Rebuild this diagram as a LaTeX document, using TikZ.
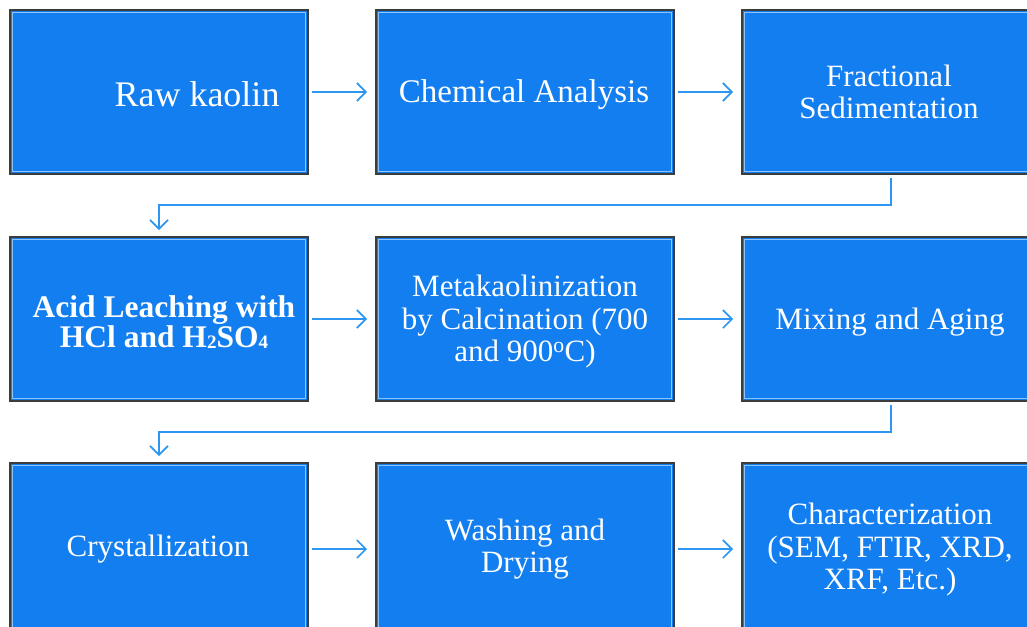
\documentclass[tikz,border=0pt]{standalone}
\usepackage{fontspec}
\setmainfont{Liberation Serif}
\usetikzlibrary{arrows.meta}
\definecolor{boxblue}{RGB}{18,126,240}
\definecolor{arrblue}{RGB}{45,150,240}
\definecolor{edgegray}{RGB}{60,60,60}
\definecolor{innerblue}{RGB}{140,195,250}
\newcommand{\smallsub}[1]{\raisebox{-1.5pt}{\fontsize{19}{19}\selectfont #1}}
\begin{document}
\begin{tikzpicture}[x=1pt,y=-1pt,
  box/.style={draw=edgegray,line width=2pt,fill=boxblue,minimum width=298pt,minimum height=164pt,anchor=north west,inner sep=0pt,outer sep=0pt},
  lastrow/.style={minimum height=170pt},
  innerline/.style={draw=innerblue,line width=0.8pt},
  lbl/.style={text=white,align=center,inner sep=0pt,font=\fontsize{31}{32.5}\selectfont},
  conn/.style={draw=arrblue,line width=1.6pt,-{Straight Barb[length=9pt,width=18pt,line width=1.6pt]}}]
\useasboundingbox (0,0) rectangle (1027,626);
\clip (0,0) rectangle (1027,626);
% boxes
\node[box] (b1) at (10,10) {};
\node[box] (b2) at (376,10) {};
\node[box] (b3) at (742,10) {};
\node[box] (b4) at (10,237) {};
\node[box] (b5) at (376,237) {};
\node[box] (b6) at (742,237) {};
\node[box,lastrow] (b7) at (10,463) {};
\node[box,lastrow] (b8) at (376,463) {};
\node[box,lastrow] (b9) at (742,463) {};
\foreach \b in {b1,b2,b3,b4,b5,b6,b7,b8,b9}{
  \draw[innerline] ([shift={(2.2,2.2)}]\b.north west) rectangle ([shift={(-2.2,-2.2)}]\b.south east);
}
% labels
\node[lbl,font=\fontsize{36}{38}\selectfont] (t1) at ([shift={(38,2)}]b1.center) {Raw kaolin};
\node[lbl,font=\fontsize{33}{35}\selectfont] (t2) at ([shift={(-1,3)}]b2.center) {Chemical Analysis};
\node[lbl] (t3) at ([shift={(-2,0)}]b3.center) {Fractional\\Sedimentation};
\node[lbl,font=\fontsize{31.5}{30}\bfseries] (t4) at ([shift={(5,3)}]b4.center) {Acid Leaching with\\HCl and H\smallsub{2}SO\smallsub{4}};
\node[lbl] (t5) at ([shift={(0,3)}]b5.center) {Metakaolinization\\by Calcination (700\\and 900\textsuperscript{o}C)};
\node[lbl] (t6) at ([shift={(-1,3)}]b6.center) {Mixing and Aging};
\node[lbl] (t7) at ([shift={(-1,1)}]b7.center) {Crystallization};
\node[lbl] (t8) at ([shift={(0,1)}]b8.center) {Washing and\\Drying};
\node[lbl] (t9) at ([shift={(-1,2)}]b9.center) {Characterization\\(SEM, FTIR, XRD,\\XRF, Etc.)};
% connectors
\draw[conn,shorten <=4pt,shorten >=9pt] (b1.east) -- (b2.west);
\draw[conn,shorten <=4pt,shorten >=9pt] (b2.east) -- (b3.west);
\draw[conn,shorten <=4pt,shorten >=9pt] (b4.east) -- (b5.west);
\draw[conn,shorten <=4pt,shorten >=9pt] (b5.east) -- (b6.west);
\draw[conn,shorten <=4pt,shorten >=9pt] (b7.east |- t7) -- (b8.west |- t7);
\draw[conn,shorten <=4pt,shorten >=9pt] (b8.east |- t7) -- (b9.west |- t7);
\draw[conn,shorten <=4pt,shorten >=7pt] (b3.south) -- ++(0,31) -| (b4.north);
\draw[conn,shorten <=4pt,shorten >=7pt] (b6.south) -- ++(0,31) -| (b7.north);
\end{tikzpicture}
\end{document}
